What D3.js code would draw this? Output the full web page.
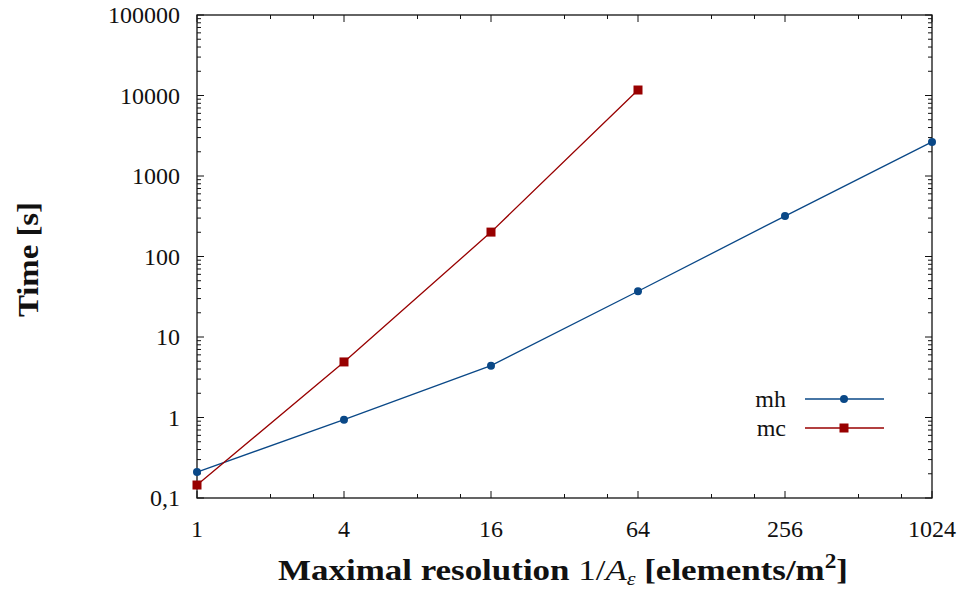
<!DOCTYPE html>
<html>
<head>
<meta charset="utf-8">
<script src="https://cdn.jsdelivr.net/npm/d3@7"></script>
<style>
  body { margin: 0; background: #fff; }
  text { font-family: "Liberation Serif", "DejaVu Serif", serif; fill: #111; }
</style>
</head>
<body>
<div id="vis"></div>
<script>
// Datos
const resolucion = [1, 4, 16, 64, 256, 1024];
const tiempo_mh = [0.21, 0.94, 4.4, 37, 318, 2650];
const tiempo_mc = [0.145, 4.9, 201, 11700];
const xTicks = [1, 4, 16, 64, 256, 1024];
const yTickLabels = ["0,1", "1", "10", "100", "1000", "10000", "100000"];
const series = [
  { name: "mh", x: resolucion, y: tiempo_mh, color: "#0a4887", marker: "circle" },
  { name: "mc", x: resolucion.slice(0, 4), y: tiempo_mc, color: "#980000", marker: "square" }
];

const WIDTH = 960;
const HEIGHT = 593;
const margins = { left: 197, right: 28, top: 15, bottom: 95 };

const SVG = d3.select("#vis").append("svg")
  .attr("width", WIDTH)
  .attr("height", HEIGHT);

const x = d3.scaleLog().base(2).domain([1, 1024])
  .range([margins.left, WIDTH - margins.right]);
const y = d3.scaleLog().domain([0.1, 100000])
  .range([HEIGHT - margins.bottom, margins.top]);

// ticks menores
const xMinor = [];
[1, 4, 16, 64, 256].forEach(b => { xMinor.push(b * 2, b * 3); });
const yMajor = d3.range(-1, 6).map(e => Math.pow(10, e));
const yMinor = [];
d3.range(-1, 5).forEach(e => { for (let k = 2; k <= 9; k++) yMinor.push(k * Math.pow(10, e)); });

const x0 = margins.left, x1 = WIDTH - margins.right;
const y0 = HEIGHT - margins.bottom, y1 = margins.top;

// ticks hacia dentro (abajo y arriba, izquierda y derecha)
const tickG = SVG.append("g").attr("stroke", "#111").attr("stroke-width", 1);
xTicks.forEach(v => {
  tickG.append("line").attr("x1", x(v)).attr("x2", x(v)).attr("y1", y0).attr("y2", y0 - 7);
  tickG.append("line").attr("x1", x(v)).attr("x2", x(v)).attr("y1", y1).attr("y2", y1 + 7);
});
xMinor.forEach(v => {
  tickG.append("line").attr("x1", x(v)).attr("x2", x(v)).attr("y1", y0).attr("y2", y0 - 4);
  tickG.append("line").attr("x1", x(v)).attr("x2", x(v)).attr("y1", y1).attr("y2", y1 + 4);
});
yMajor.forEach(v => {
  tickG.append("line").attr("x1", x0).attr("x2", x0 + 7).attr("y1", y(v)).attr("y2", y(v));
  tickG.append("line").attr("x1", x1).attr("x2", x1 - 7).attr("y1", y(v)).attr("y2", y(v));
});
yMinor.forEach(v => {
  tickG.append("line").attr("x1", x0).attr("x2", x0 + 4).attr("y1", y(v)).attr("y2", y(v));
  tickG.append("line").attr("x1", x1).attr("x2", x1 - 4).attr("y1", y(v)).attr("y2", y(v));
});

// marco
SVG.append("rect")
  .attr("x", x0).attr("y", y1)
  .attr("width", x1 - x0).attr("height", y0 - y1)
  .attr("fill", "none").attr("stroke", "#111").attr("stroke-width", 1.3);

// etiquetas de ticks
SVG.append("g").selectAll("text").data(xTicks).join("text")
  .attr("x", d => x(d)).attr("y", y0 + 39)
  .attr("text-anchor", "middle").attr("font-size", 24)
  .text(d => d);
SVG.append("g").selectAll("text").data(yMajor).join("text")
  .attr("x", x0 - 17).attr("y", d => y(d) + 8)
  .attr("text-anchor", "end").attr("font-size", 24)
  .text((d, i) => yTickLabels[i]);

// líneas y marcadores
const line = d3.line().x(d => x(d[0])).y(d => y(d[1]));
series.forEach(s => {
  const pts = s.x.map((v, i) => [v, s.y[i]]);
  SVG.append("path").datum(pts)
    .attr("d", line).attr("fill", "none")
    .attr("stroke", s.color).attr("stroke-width", 1.3);
  const g = SVG.append("g").attr("fill", s.color);
  if (s.marker === "circle") {
    g.selectAll("circle").data(pts).join("circle")
      .attr("cx", d => x(d[0])).attr("cy", d => y(d[1])).attr("r", 4);
  } else {
    g.selectAll("rect").data(pts).join("rect")
      .attr("x", d => x(d[0]) - 4.5).attr("y", d => y(d[1]) - 4.5)
      .attr("width", 9).attr("height", 9);
  }
});

// leyenda
series.forEach((s, i) => {
  const ly = 399 + i * 29;
  SVG.append("text").attr("x", 786).attr("y", ly + 8)
    .attr("text-anchor", "end").attr("font-size", 24).text(s.name);
  SVG.append("line").attr("x1", 805).attr("x2", 884).attr("y1", ly).attr("y2", ly)
    .attr("stroke", s.color).attr("stroke-width", 1.3);
  if (s.marker === "circle") {
    SVG.append("circle").attr("cx", 844).attr("cy", ly).attr("r", 4).attr("fill", s.color);
  } else {
    SVG.append("rect").attr("x", 839.5).attr("y", ly - 4.5).attr("width", 9).attr("height", 9).attr("fill", s.color);
  }
});

// títulos de ejes
const xt = SVG.append("text")
  .attr("x", 278).attr("y", 580)
  .attr("font-size", 30).attr("font-weight", "bold")
  .attr("textLength", 570).attr("lengthAdjust", "spacingAndGlyphs");
xt.append("tspan").text("Maximal resolution ");
xt.append("tspan").attr("font-weight", "normal").text("1/");
xt.append("tspan").attr("font-weight", "normal").attr("font-style", "italic").text("A");
xt.append("tspan").attr("font-weight", "normal").attr("font-style", "italic").attr("font-size", 19).attr("dy", 5).text("ε");
xt.append("tspan").attr("dy", -5).text(" [elements/m");
xt.append("tspan").attr("font-size", 20).attr("dy", -12).text("2");
xt.append("tspan").attr("dy", 12).text("]");

SVG.append("text")
  .attr("transform", `translate(38,317) rotate(-90)`)
  .attr("font-size", 30).attr("font-weight", "bold")
  .attr("textLength", 115).attr("lengthAdjust", "spacingAndGlyphs")
  .text("Time [s]");
</script>
</body>
</html>
